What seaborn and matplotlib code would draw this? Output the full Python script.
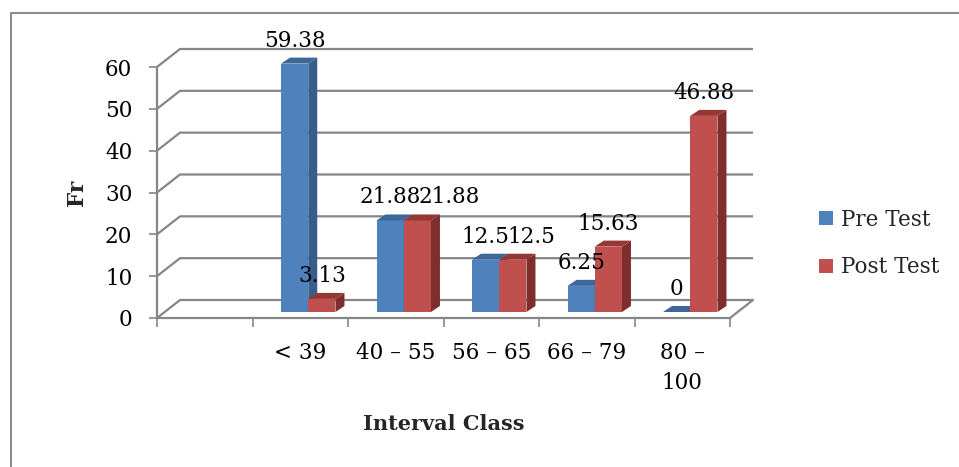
import numpy as np
import pandas as pd
import seaborn as sns
import matplotlib
matplotlib.use("Agg")
import matplotlib.pyplot as plt
from matplotlib.patches import Polygon, Patch
from matplotlib.lines import Line2D
from matplotlib.transforms import offset_copy

# ---- data ----
categories = ["< 39", "40 – 55", "56 – 65", "66 – 79", "80 –\n100"]
pre_test = [59.38, 21.88, 12.5, 6.25, 0]
post_test = [3.13, 21.88, 12.5, 15.63, 46.88]
series_names = ["Pre Test", "Post Test"]
y_ticks = [0, 10, 20, 30, 40, 50, 60]

df = pd.DataFrame({
    "Interval Class": categories * 2,
    "Fr": pre_test + post_test,
    "Test": [series_names[0]] * len(categories) + [series_names[1]] * len(categories),
})

# ---- styling ----
sns.set_theme(style="white")
plt.rcParams["font.family"] = ["DejaVu Serif"]
FS = 15.5
GRAY = "#868686"
front_cols = {"Pre Test": "#4F81BD", "Post Test": "#C0504D"}
side_cols = {"Pre Test": "#385D8A", "Post Test": "#7E2F2D"}
top_cols = {"Pre Test": "#3D6799", "Post Test": "#953735"}

W, H = 959, 467
fig = plt.figure(figsize=(W / 100, H / 100), dpi=100)
fig.patch.set_facecolor("white")

# front plane of the plot box (pixels)
X0, X1, Y0, Y1 = 157, 730, 318, 67
ax = fig.add_axes([X0 / W, (H - Y0) / H, (X1 - X0) / W, (Y0 - Y1) / H])
ax.set_facecolor("none")

sns.barplot(data=df, x="Interval Class", y="Fr", hue="Test", order=categories,
            hue_order=series_names, palette=front_cols, width=0.57, gap=0,
            saturation=1, legend=False, ax=ax, edgecolor="none", linewidth=0)

xmin, xmax = -1.5, len(categories) - 0.5
ax.set_xlim(xmin, xmax)
ax.set_ylim(0, 60)

px_x = (X1 - X0) / (xmax - xmin)
px_y = (Y0 - Y1) / 60.0

# back wall of the 3-D box
WALL_DX, WALL_DY = 23 / px_x, 18 / px_y
for v in y_ticks:
    ax.plot([xmin, xmin + WALL_DX, xmax + WALL_DX], [v, v + WALL_DY, v + WALL_DY],
            color=GRAY, lw=1.6, zorder=1, clip_on=False, solid_capstyle="butt")
ax.plot([xmax, xmax + WALL_DX], [0, WALL_DY], color=GRAY, lw=1.6, zorder=1, clip_on=False)

# bars sit a little behind the front plane; give them depth faces
bar_trans = offset_copy(ax.transData, fig=fig, x=8, y=6, units="dots")
DEPTH_DX, DEPTH_DY = 9 / px_x, 6 / px_y

n = len(categories)
bars = [p for p in ax.patches]
labels = []
for i, p in enumerate(bars):
    name = series_names[i // n]
    z = 2 if name == "Pre Test" else 3
    p.set_transform(bar_trans)
    p.set_zorder(z)
    p.set_clip_on(False)
    x, w, h = p.get_x(), p.get_width(), p.get_height()
    side = Polygon([(x + w, 0), (x + w + DEPTH_DX, DEPTH_DY),
                    (x + w + DEPTH_DX, h + DEPTH_DY), (x + w, h)],
                   closed=True, facecolor=side_cols[name], edgecolor="none",
                   transform=bar_trans, zorder=z, clip_on=False)
    top = Polygon([(x, h), (x + DEPTH_DX, h + DEPTH_DY),
                   (x + w + DEPTH_DX, h + DEPTH_DY), (x + w, h)],
                  closed=True, facecolor=top_cols[name], edgecolor="none",
                  transform=bar_trans, zorder=z, clip_on=False)
    ax.add_patch(side)
    ax.add_patch(top)
    t = ax.annotate(f"{h:g}", xy=(x + w / 2, h), xycoords=bar_trans,
                    xytext=(0, 17), textcoords="offset pixels",
                    ha="center", va="baseline", fontsize=FS, color="black",
                    zorder=6, annotation_clip=False)
    labels.append(t)

# axes lines and ticks
for s in ["top", "right"]:
    ax.spines[s].set_visible(False)
for s in ["left", "bottom"]:
    ax.spines[s].set_color(GRAY)
    ax.spines[s].set_linewidth(1.6)
    ax.spines[s].set_zorder(1.5)

ax.set_yticks(y_ticks)
ax.tick_params(axis="y", direction="out", length=5.8, width=1.2, color=GRAY,
               pad=12, labelsize=FS, labelcolor="black", left=True)
ax.set_xticks(range(n))
ax.set_xticklabels(categories, fontsize=FS, linespacing=1.5)
ax.set_xticks(np.arange(xmin, xmax + 0.01, 1.0), minor=True)
ax.tick_params(axis="x", which="major", length=0, pad=17, labelcolor="black")
ax.tick_params(axis="x", which="minor", direction="out", length=6.5, width=1.2,
               color=GRAY, bottom=True)

ax.set_xlabel("Interval Class", fontsize=15, fontweight="bold")
ax.set_ylabel("Fr", fontsize=15.5, fontweight="bold")
ax.xaxis.set_label_coords(0.5, (Y0 - 424) / (Y0 - Y1))
ax.xaxis.label.set_va("center")
ax.yaxis.set_label_coords((77 - X0) / (X1 - X0), 0.5)
ax.yaxis.label.set_va("center")

# legend
handles = [Patch(facecolor=front_cols[s], edgecolor="none") for s in series_names]
fig.legend(handles, series_names, loc="center left",
           bbox_to_anchor=(819 / W, 1 - 243.5 / H), frameon=False,
           fontsize=FS, handlelength=0.65, handleheight=0.65,
           handletextpad=0.37, labelspacing=1.2, borderpad=0, borderaxespad=0)

# chart-area frame
fig.add_artist(Line2D([11 / W, 11 / W, 1.0], [0.0, 1 - 13 / H, 1 - 13 / H],
                      transform=fig.transFigure, color="#8C8C8C", lw=1.5))

# push a Post Test label to the right when it collides with its Pre Test neighbour
fig.canvas.draw()
renderer = fig.canvas.get_renderer()
for k in range(n):
    left_lbl, right_lbl = labels[k], labels[k + n]
    a = left_lbl.get_window_extent(renderer)
    b = right_lbl.get_window_extent(renderer)
    if b.x0 < a.x1 and not (b.y1 < a.y0 or a.y1 < b.y0):
        shift = a.x1 - b.x0 - 2
        right_lbl.set_position((shift, 17))

fig.savefig("out.png", dpi=100)
